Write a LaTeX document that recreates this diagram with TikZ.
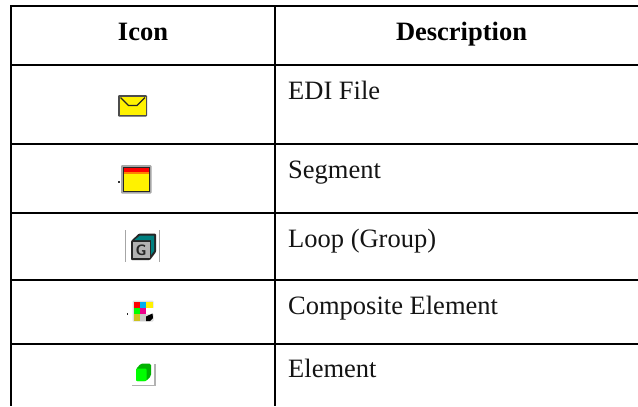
\documentclass[tikz,border=0pt]{standalone}
\usepackage{fontspec}
\setmainfont{Liberation Serif}
\definecolor{cubeteal}{RGB}{0,128,128}
\definecolor{olivecell}{RGB}{205,195,30}
\tikzset{
  rule/.style={line width=2bp,black},
  head/.style={font=\fontsize{26.5bp}{30bp}\selectfont\bfseries,anchor=base,inner sep=0pt},
  body/.style={font=\fontsize{26.5bp}{30bp}\selectfont,anchor=base west,inner sep=0pt,text=black!92},
  ghost/.style={line width=1bp,black!35}
}
\begin{document}
\begin{tikzpicture}[x=1bp,y=-1bp]
\useasboundingbox (0,0) rectangle (638,406);
\fill[white] (0,0) rectangle (638,406);
% table
\draw[rule] (10,6) -- (638,6);
\draw[rule] (10,64.5) -- (638,64.5);
\draw[rule] (10,144) -- (638,144);
\draw[rule] (10,212.7) -- (638,212.7);
\draw[rule] (10,280) -- (638,280);
\draw[rule] (10,343.7) -- (638,343.7);
\draw[rule] (11,5) -- (11,406);
\draw[rule] (275,5) -- (275,406);
% text
\node[head] (h1) at (143,40) {Icon};
\node[head] (h2) at (461.5,40) {Description};
\node[body] (t1) at (288,99) {EDI File};
\node[body] (t2) at (288,178) {Segment};
\node[body] (t3) at (288,247) {Loop (Group)};
\node[body] (t4) at (288,314) {Composite Element};
\node[body] (t5) at (288,377) {Element};
% envelope
\fill[black!70,rounded corners=1bp] (118,95) rectangle (147,116.5);
\fill[yellow] (120,97) rectangle (145.5,114.5);
\draw[black!85,line width=1.3bp] (120.5,97.5) -- (128.5,105.5) -- (137,105.5) -- (145,97.5);
% segment
\fill[black!35,rounded corners=1bp] (121,165) rectangle (151.5,193.5);
\fill[black!85] (122.5,166.5) rectangle (150,192);
\fill[yellow] (124,173.5) rectangle (149,190.5);
\fill[red] (124,168) rectangle (149,172);
\fill[orange] (124,172) rectangle (149,173.5);
\fill[black!80] (118,181) rectangle (120,183);
% loop
\draw[ghost] (125.5,230) -- (125.5,262);
\draw[ghost] (159.5,230) -- (159.5,262);
\fill[black!85,rounded corners=1bp] (131,241) -- (139,233.5) -- (156,233.5) -- (156,252) -- (150,260) -- (131,260) -- cycle;
\fill[cubeteal] (134.5,240) -- (140,235.5) -- (154,235.5) -- (154,251) -- (151,255) -- (151,240) -- cycle;
\fill[black!30] (133,242) rectangle (149.5,258);
\node[font=\sffamily\bfseries\fontsize{15bp}{15bp}\selectfont,inner sep=0pt,text=black!85] (g) at (141,250.2) {G};
% composite
\fill[black!12,rounded corners=1bp] (132.5,300.5) rectangle (153.5,321.5);
\fill[white] (146,308) rectangle (153.5,314);
\fill[red] (134,302) rectangle (140,308);
\fill[cyan] (140,302) rectangle (146,308);
\fill[yellow] (146,302) rectangle (152.5,308);
\fill[green] (133.5,308) rectangle (140,314);
\fill[magenta] (140,308) rectangle (146,314);
\fill[olivecell] (133.5,314) rectangle (140,321);
\fill[black!22] (140,314) rectangle (146,321);
\fill[black] (146,316.5) -- (152.5,313.5) -- (153,318) -- (150,321) -- (146,321) -- cycle;
\fill[black!85] (126.5,313.2) rectangle (128.2,315);
% element
\fill[green!70!black,rounded corners=1.5bp] (136,369) -- (141,363.5) -- (151,363.5) -- (151,376) -- (146,381) -- (136,381) -- cycle;
\fill[green,rounded corners=1bp] (136,368.5) rectangle (146.5,381);
\fill[black!30] (154.3,363.5) rectangle (156,386);
\fill[black!30] (132,384.5) rectangle (156,386);
\end{tikzpicture}
\end{document}
